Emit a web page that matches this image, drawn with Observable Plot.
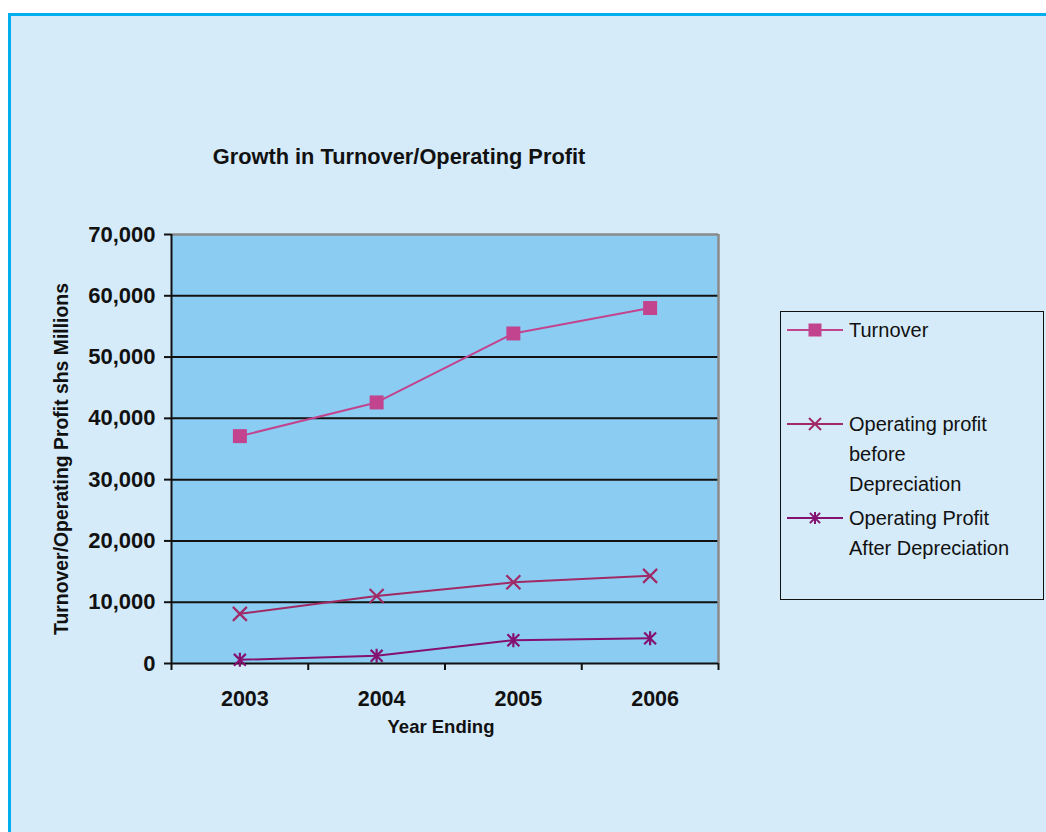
<!DOCTYPE html>
<html>
<head>
<meta charset="utf-8">
<script src="https://cdn.jsdelivr.net/npm/d3@7"></script>
<script src="https://cdn.jsdelivr.net/npm/@observablehq/plot@0.6"></script>
<style>
  html, body { margin: 0; padding: 0; background: #fff; overflow: hidden; }
  body { width: 1046px; height: 832px; position: relative; font-family: "Liberation Sans", Arial, sans-serif; color: #111; }
  #panel { position: absolute; left: 8px; top: 13px; width: 1060px; height: 840px;
           background: #d5ebfa; border-left: 3px solid #00aeef; border-top: 3px solid #00aeef; box-sizing: border-box; }
  #chart { position: absolute; left: 0; top: 0; }
  .title { position: absolute; left: 399px; top: 144px; transform: translateX(-50%); white-space: nowrap;
           font-weight: bold; font-size: 21.8px; }
  .xtitle { position: absolute; left: 441px; top: 716px; transform: translateX(-50%); white-space: nowrap;
            font-weight: bold; font-size: 18.5px; }
  .ytitle { position: absolute; left: 61px; top: 459px; transform: translate(-50%, -50%) rotate(-90deg); white-space: nowrap;
            font-weight: bold; font-size: 19.4px; }
  #legend { position: absolute; left: 780px; top: 311px; width: 264px; height: 289px; border: 1.5px solid #111; box-sizing: border-box; }
  .item { position: absolute; left: 0; }
  .item svg { position: absolute; left: 6px; }
  .item .txt { position: absolute; left: 68px; font-size: 20px; line-height: 30px; white-space: nowrap; }
</style>
</head>
<body>
<div id="panel"></div>
<div id="chart"></div>
<div class="title">Growth in Turnover/Operating Profit</div>
<div class="xtitle">Year Ending</div>
<div class="ytitle">Turnover/Operating Profit shs Millions</div>
<div id="legend"></div>
<script>
// Years on the x axis
const years = [2003, 2004, 2005, 2006];
// Series values, shs millions
const turnover = [37100, 42600, 53850, 58000];
const opProfitBefore = [8100, 11000, 13250, 14300];
const opProfitAfter = [600, 1250, 3800, 4100];
// Series names, legend labels, styling
const seriesNames = ["Turnover", "Operating profit before Depreciation", "Operating Profit After Depreciation"];
const legendLines = [["Turnover"], ["Operating profit", "before", "Depreciation"], ["Operating Profit", "After Depreciation"]];
const seriesColors = ["#c2448f", "#a02a65", "#84116f"];
// Axis ticks
const yTicks = [0, 10000, 20000, 30000, 40000, 50000, 60000, 70000];
const bandEdges = [2002.5, 2003.5, 2004.5, 2005.5, 2006.5];

// Marker shapes: filled square, an "x", and an "x" crossed by a vertical stroke
const squareSymbol = {draw(ctx, size) { const h = Math.sqrt(size / Math.PI); ctx.rect(-h, -h, 2 * h, 2 * h); }};
const timesSymbol = {draw(ctx, size) {
  const h = Math.sqrt(size / Math.PI);
  ctx.moveTo(-h, -h); ctx.lineTo(h, h); ctx.moveTo(-h, h); ctx.lineTo(h, -h);
}};
const starSymbol = {draw(ctx, size) {
  const h = Math.sqrt(size / Math.PI), d = h * 0.85;
  ctx.moveTo(-d, -d); ctx.lineTo(d, d); ctx.moveTo(-d, d); ctx.lineTo(d, -d);
  ctx.moveTo(0, -h); ctx.lineTo(0, h);
}};
const seriesSymbols = [squareSymbol, timesSymbol, starSymbol];
const symbolFilled = [true, false, false];

const seriesValues = [turnover, opProfitBefore, opProfitAfter];
const rows = seriesNames.flatMap((name, i) =>
  years.map((year, j) => ({series: name, year, value: seriesValues[i][j]})));

const W = 1046, H = 832;
const plotLeft = 171, plotRight = 718, plotTop = 234, plotBottom = 663;

const markerMarks = seriesNames.map((name, i) =>
  Plot.dot(rows.filter(d => d.series === name), symbolFilled[i]
    ? {x: "year", y: "value", symbol: seriesSymbols[i], fill: "series", stroke: null, r: 7}
    : {x: "year", y: "value", symbol: seriesSymbols[i], fill: "none", stroke: "series", r: 7, strokeWidth: 2.2}));

const chart = Plot.plot({
  width: W,
  height: H,
  marginLeft: plotLeft,
  marginRight: W - plotRight,
  marginTop: plotTop,
  marginBottom: H - plotBottom,
  style: {background: "transparent", fontFamily: "'Liberation Sans', Arial, sans-serif", color: "#111", overflow: "visible"},
  x: {domain: [bandEdges[0], bandEdges[bandEdges.length - 1]]},
  y: {domain: [0, 70000]},
  color: {domain: seriesNames, range: seriesColors},
  marks: [
    Plot.frame({fill: "#8bcdf2", stroke: null}),
    Plot.ruleY(yTicks.filter(d => d > 0 && d < 70000), {stroke: "#111", strokeWidth: 2}),
    Plot.ruleY([70000], {stroke: "#8a8a8a", strokeWidth: 2.5}),
    Plot.ruleX([bandEdges[bandEdges.length - 1]], {stroke: "#8a8a8a", strokeWidth: 2.5}),
    Plot.ruleX([bandEdges[0]], {stroke: "#111", strokeWidth: 2}),
    Plot.ruleY([0], {stroke: "#111", strokeWidth: 2}),
    Plot.axisY({ticks: yTicks, tickSize: 7, tickPadding: 9, tickFormat: d3.format(","), fontSize: 22, fontWeight: "bold", label: null, strokeWidth: 2}),
    Plot.axisX({ticks: bandEdges, tickSize: 7, tickFormat: () => "", label: null, strokeWidth: 2}),
    Plot.axisX({ticks: years, tickSize: 0, tickPadding: 27, tickFormat: d => String(d), fontSize: 21.5, fontWeight: "bold", label: null, dx: 5}),
    Plot.line(rows, {x: "year", y: "value", z: "series", stroke: "series", strokeWidth: 2}),
    ...markerMarks
  ]
});
document.getElementById("chart").appendChild(chart);

// Legend: a line-and-marker sample beside each series label
const legend = d3.select("#legend");
const rowTops = [3, 97, 191];
seriesNames.forEach((name, i) => {
  const item = legend.append("div").attr("class", "item").style("top", rowTops[i] + "px");
  const svg = item.append("svg").attr("width", 58).attr("height", 30).style("top", "0px");
  svg.append("line").attr("x1", 0).attr("x2", 56).attr("y1", 15).attr("y2", 15)
    .attr("stroke", seriesColors[i]).attr("stroke-width", 2);
  const size = Math.PI * (symbolFilled[i] ? 6.5 : 6) ** 2;
  const p = svg.append("path").attr("transform", "translate(28,15)").attr("d", d3.symbol(seriesSymbols[i], size)());
  if (symbolFilled[i]) p.attr("fill", seriesColors[i]);
  else p.attr("fill", "none").attr("stroke", seriesColors[i]).attr("stroke-width", 2);
  item.append("div").attr("class", "txt").style("top", "0px").html(legendLines[i].join("<br>"));
});
</script>
</body>
</html>
